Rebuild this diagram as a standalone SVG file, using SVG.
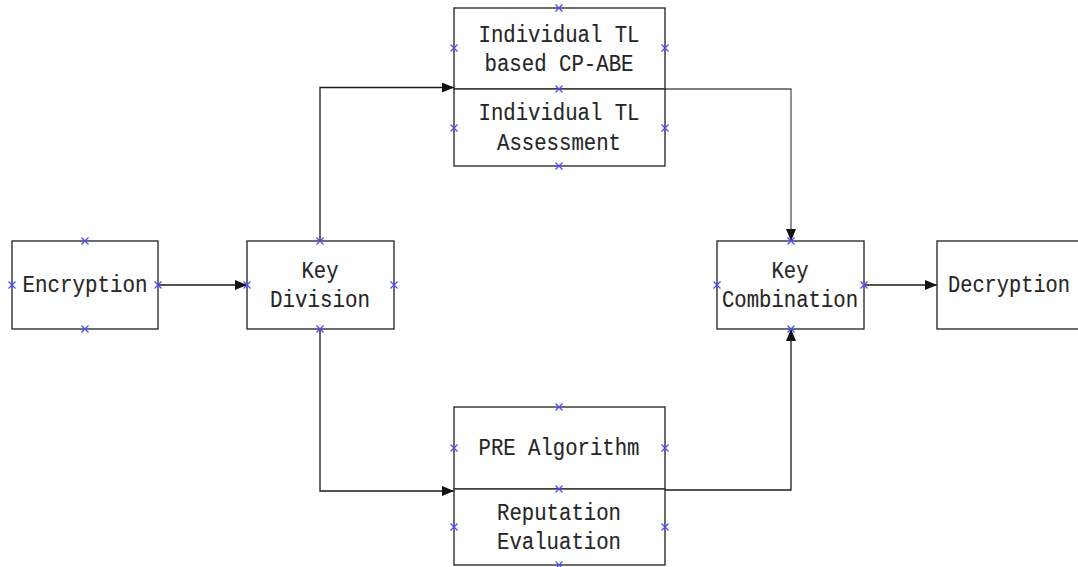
<svg xmlns="http://www.w3.org/2000/svg" width="1078" height="567" viewBox="0 0 1078 567">
  <style>
    .box { fill: #ffffff; stroke: #303030; stroke-width: 1.4; }
    .lbl { font-family: "Liberation Mono", "DejaVu Sans Mono", monospace; font-size: 24.5px; fill: #262626; stroke: #262626; stroke-width: 0.15; text-anchor: middle; }
    .wire { fill: none; stroke: #1a1a1a; stroke-width: 1.3; }
    .wire.soft { stroke: #555555; }
    .pin { fill: none; stroke: #4a4aff; stroke-width: 1.2; }
  </style>
  <defs>
    <marker id="arrow" viewBox="0 0 12 10" refX="12" refY="5" markerWidth="12" markerHeight="10" markerUnits="userSpaceOnUse" orient="auto">
      <path d="M0,0 L12,5 L0,10 Z" fill="#111111"/>
    </marker>
    <path id="x" class="pin" d="M-3.5,-3.5 L3.5,3.5 M-3.5,3.5 L3.5,-3.5"/>
  </defs>
  <rect width="1078" height="567" fill="#ffffff"/>

  <g id="connectors">
    <path class="wire" d="M158,285 H247" marker-end="url(#arrow)"/>
    <path class="wire" d="M320,241 V87.5 H454" marker-end="url(#arrow)"/>
    <path class="wire" d="M320,329 V491 H454" marker-end="url(#arrow)"/>
    <path class="wire soft" d="M665,89 H791 V241" marker-end="url(#arrow)"/>
    <path class="wire" d="M665,490 H791 V329" marker-end="url(#arrow)"/>
    <path class="wire" d="M864,285 H937" marker-end="url(#arrow)"/>
  </g>

  <g id="encryption">
    <rect class="box" x="12" y="241" width="146" height="88"/>
    <text class="lbl" x="85" y="292" textLength="125" lengthAdjust="spacingAndGlyphs">Encryption</text>
    <use href="#x" x="85" y="241"/>
    <use href="#x" x="85" y="329"/>
    <use href="#x" x="12" y="285"/>
    <use href="#x" x="158" y="285"/>
  </g>

  <g id="key-division">
    <rect class="box" x="247" y="241" width="147" height="88"/>
    <text class="lbl" x="320" y="278" textLength="37" lengthAdjust="spacingAndGlyphs">Key</text>
    <text class="lbl" x="320" y="307" textLength="100" lengthAdjust="spacingAndGlyphs">Division</text>
    <use href="#x" x="320" y="241"/>
    <use href="#x" x="320" y="329"/>
    <use href="#x" x="247" y="285"/>
    <use href="#x" x="394" y="285"/>
  </g>

  <g id="tl-cp-abe">
    <rect class="box" x="454" y="8" width="211" height="81"/>
    <text class="lbl" x="559" y="42" textLength="161" lengthAdjust="spacingAndGlyphs">Individual TL</text>
    <text class="lbl" x="559" y="71" textLength="149" lengthAdjust="spacingAndGlyphs">based CP-ABE</text>
    <use href="#x" x="559" y="8"/>
    <use href="#x" x="454" y="48"/>
    <use href="#x" x="665" y="48"/>
  </g>

  <g id="tl-assessment">
    <rect class="box" x="454" y="89" width="211" height="77"/>
    <text class="lbl" x="559" y="120" textLength="161" lengthAdjust="spacingAndGlyphs">Individual TL</text>
    <text class="lbl" x="559" y="150" textLength="124" lengthAdjust="spacingAndGlyphs">Assessment</text>
    <use href="#x" x="559" y="89"/>
    <use href="#x" x="454" y="128"/>
    <use href="#x" x="665" y="128"/>
    <use href="#x" x="559" y="166"/>
  </g>

  <g id="pre-algorithm">
    <rect class="box" x="454" y="407" width="211" height="82"/>
    <text class="lbl" x="559" y="455" textLength="161" lengthAdjust="spacingAndGlyphs">PRE Algorithm</text>
    <use href="#x" x="559" y="407"/>
    <use href="#x" x="454" y="448"/>
    <use href="#x" x="665" y="448"/>
  </g>

  <g id="reputation-evaluation">
    <rect class="box" x="454" y="489" width="211" height="76"/>
    <text class="lbl" x="559" y="520" textLength="124" lengthAdjust="spacingAndGlyphs">Reputation</text>
    <text class="lbl" x="559" y="549" textLength="124" lengthAdjust="spacingAndGlyphs">Evaluation</text>
    <use href="#x" x="559" y="489"/>
    <use href="#x" x="454" y="527"/>
    <use href="#x" x="665" y="527"/>
    <use href="#x" x="559" y="565"/>
  </g>

  <g id="key-combination">
    <rect class="box" x="717" y="241" width="147" height="88"/>
    <text class="lbl" x="790" y="278" textLength="37" lengthAdjust="spacingAndGlyphs">Key</text>
    <text class="lbl" x="790" y="307" textLength="136" lengthAdjust="spacingAndGlyphs">Combination</text>
    <use href="#x" x="791" y="241"/>
    <use href="#x" x="791" y="329"/>
    <use href="#x" x="717" y="285"/>
    <use href="#x" x="864" y="285"/>
  </g>

  <g id="decryption">
    <rect class="box" x="937" y="241" width="146" height="88"/>
    <text class="lbl" x="1009" y="292" textLength="122" lengthAdjust="spacingAndGlyphs">Decryption</text>
  </g>
</svg>
